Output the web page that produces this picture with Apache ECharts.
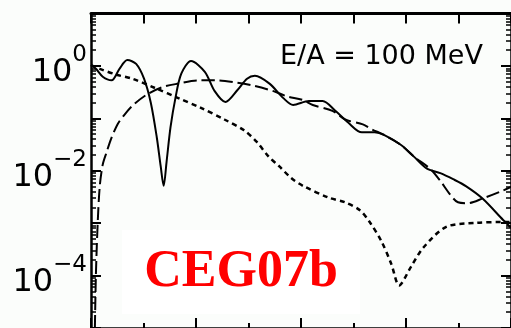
<!DOCTYPE html>
<html><head><meta charset="utf-8">
<script src="https://cdn.jsdelivr.net/npm/echarts@6/dist/echarts.min.js"></script>
<style>html,body{margin:0;padding:0;background:#fbfdfb}#c{width:511px;height:328px}</style>
</head><body><div id="c"></div>
<script>
// ---- data ----
const solidX = [0, 0.047, 0.112, 0.196, 0.271, 0.346, 0.43, 0.505, 0.57, 0.626, 0.664, 0.692, 0.72, 0.757, 0.804, 0.86, 0.953, 1.084, 1.178, 1.28, 1.393, 1.486, 1.561, 1.70, 1.832, 1.925, 2.075, 2.206, 2.327, 2.449, 2.579, 2.701, 2.794, 2.953, 3.075, 3.196, 3.327, 3.449, 3.57, 3.729, 3.925, 4.0];
const solidY = [1.04, 0.88, 0.62, 0.53, 0.88, 1.29, 1.09, 0.57, 0.196, 0.044, 0.0121, 0.00515, 0.015, 0.067, 0.243, 0.71, 1.24, 0.77, 0.33, 0.205, 0.343, 0.57, 0.65, 0.46, 0.243, 0.18, 0.214, 0.214, 0.139, 0.083, 0.054, 0.054, 0.048, 0.031, 0.0186, 0.0111, 0.009, 0.0069, 0.0051, 0.00295, 0.00115, 0.00082];

const dashX = [0.037, 0.047, 0.065, 0.084, 0.112, 0.15, 0.187, 0.252, 0.318, 0.393, 0.523, 0.673, 0.832, 1.019, 1.206, 1.393, 1.551, 1.738, 1.86, 2.019, 2.112, 2.299, 2.421, 2.589, 2.673, 2.794, 2.953, 3.075, 3.234, 3.327, 3.421, 3.495, 3.589, 3.729, 3.925, 4.0];
const dashY = [1e-5, 1.1e-4, 1.15e-3, 5.2e-3, 0.0132, 0.023, 0.0385, 0.0765, 0.117, 0.173, 0.277, 0.39, 0.46, 0.53, 0.53, 0.48, 0.42, 0.33, 0.265, 0.223, 0.18, 0.139, 0.095, 0.0765, 0.062, 0.048, 0.031, 0.0186, 0.0107, 0.0064, 0.0035, 0.0025, 0.0024, 0.00295, 0.0042, 0.0049];

const dotX = [0, 0.084, 0.243, 0.393, 0.617, 0.832, 1.047, 1.271, 1.458, 1.579, 1.692, 1.794, 1.907, 2.019, 2.262, 2.421, 2.561, 2.654, 2.766, 2.86, 2.935, 3.047, 3.168, 3.383, 3.664, 3.925, 4.0];
const dotY = [1.04, 0.88, 0.68, 0.57, 0.373, 0.243, 0.158, 0.095, 0.059, 0.0354, 0.0186, 0.0121, 0.00725, 0.00515, 0.00308, 0.00249, 0.00177, 0.00105, 4.5e-4, 1.67e-4, 6.5e-5, 1.47e-4, 3.47e-4, 8.5e-4, 1.01e-3, 1.05e-3, 1.05e-3];

const yLabelExps = [0, -2, -4];
const annotation = 'E/A = 100 MeV';
const stamp = 'CEG07b';

// ---- build ----
const zip = (xs, ys) => xs.map((x, i) => [x, ys[i]]);
const minorLog = [];
for (let d = -5; d < 1; d++) for (let k = 2; k <= 9; k++) minorLog.push(d + Math.log10(k));

const chart = echarts.init(document.getElementById('c'), null, {renderer: 'canvas'});
const grid = {left: 91, top: 13.5, width: 428, height: 323};
const black = '#000';
const xBase = {type: 'value', min: 0, max: 4, interval: 1, axisLabel: {show: false}, splitLine: {show: false}};
const yLogBase = {type: 'log', logBase: 10, min: 1e-5, max: 10, splitNumber: 6, splitLine: {show: false}};
const yMinorBase = {type: 'value', min: -5, max: 1, axisLine: {show: false, onZero: false}, axisLabel: {show: false}, splitLine: {show: false},
  axisTick: {show: true, inside: true, length: 5, customValues: minorLog, lineStyle: {color: black, width: 1.5}}};

chart.setOption({
  animation: false,
  backgroundColor: '#fbfdfb',
  grid: grid,
  xAxis: [
    Object.assign({}, xBase, {position: 'bottom', axisLine: {onZero: false, lineStyle: {color: black, width: 2.5}},
      axisTick: {inside: true, length: 10, lineStyle: {color: black, width: 2}},
      minorTick: {show: true, splitNumber: 2, length: 5, lineStyle: {color: black, width: 2}}}),
    Object.assign({}, xBase, {position: 'top', axisLine: {onZero: false, lineStyle: {color: black, width: 3}},
      axisTick: {inside: true, length: 10, lineStyle: {color: black, width: 2}},
      minorTick: {show: true, splitNumber: 2, length: 10, lineStyle: {color: black, width: 2}}})
  ],
  yAxis: [
    Object.assign({}, yLogBase, {position: 'left', axisLine: {onZero: false, lineStyle: {color: black, width: 2.5}},
      axisTick: {inside: true, length: 10, lineStyle: {color: black, width: 2}},
      axisLabel: {margin: 4, color: black,
        formatter: function (v) {
          const e = Math.round(Math.log10(v));
          if (yLabelExps.indexOf(e) < 0) return '';
          const ex = e === 0 ? '0' : '\u2212' + (-e);
          return '{s|' + ex + '}\n{b|10}{h|' + ex + '}';
        },
        rich: {
          b: {fontFamily: 'DejaVu Sans', fontSize: 32, lineHeight: 21, color: black},
          s: {fontFamily: 'DejaVu Sans', fontSize: 23, lineHeight: 14, color: black},
          h: {fontFamily: 'DejaVu Sans', fontSize: 23, lineHeight: 21, color: 'rgba(0,0,0,0)'}
        }}}),
    Object.assign({}, yLogBase, {position: 'right', axisLine: {onZero: false, lineStyle: {color: black, width: 2.5}},
      axisTick: {inside: true, length: 10, lineStyle: {color: black, width: 2}}, axisLabel: {show: false}}),
    Object.assign({}, yMinorBase, {position: 'left'}),
    Object.assign({}, yMinorBase, {position: 'right'})
  ],
  series: [
    {type: 'line', data: zip(solidX, solidY), showSymbol: false, symbol: 'none', smooth: 0.3,
      lineStyle: {color: black, width: 2, type: 'solid'}},
    {type: 'line', data: zip(dashX, dashY), showSymbol: false, symbol: 'none', smooth: 0.3,
      lineStyle: {color: black, width: 2, type: [13, 5]}},
    {type: 'line', data: zip(dotX, dotY), showSymbol: false, symbol: 'none', smooth: 0.3,
      lineStyle: {color: black, width: 2.5, type: [5, 4]}}
  ],
  graphic: [
    {type: 'text', left: 280, top: 43, z: 100,
      style: {text: annotation, font: '27px "DejaVu Sans"', fill: black}},
    {type: 'rect', shape: {x: 122, y: 230, width: 238, height: 84}, z: 100, style: {fill: '#ffffff'}},
    {type: 'text', x: 241, y: 273, z: 101,
      style: {text: stamp, font: 'bold 52px "Liberation Serif"', fill: '#ff0000', align: 'center', verticalAlign: 'middle'}}
  ]
});
</script></body></html>
